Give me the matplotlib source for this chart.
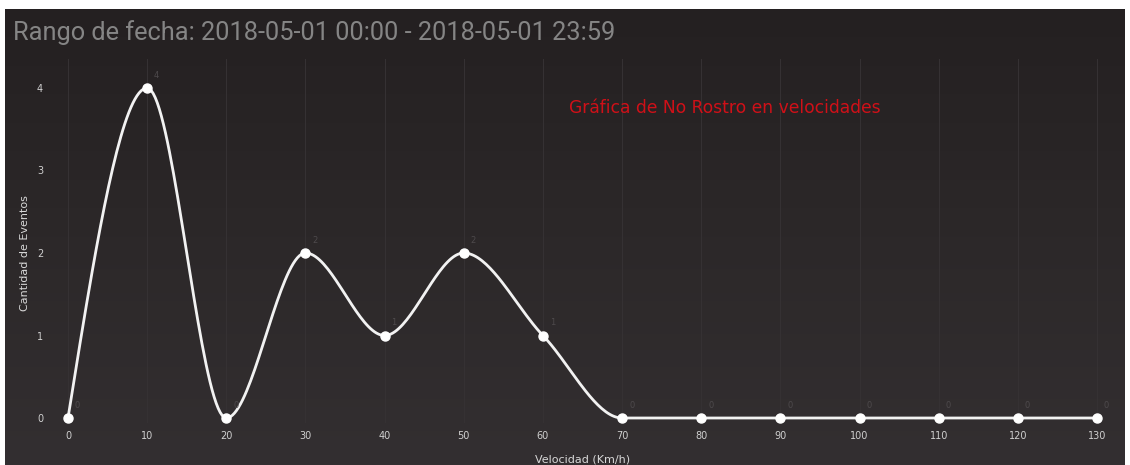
import numpy as np
import matplotlib
matplotlib.use('Agg')
from matplotlib import pyplot as plt
from matplotlib.colors import LinearSegmentedColormap

# data
velocidades = [0, 10, 20, 30, 40, 50, 60, 70, 80, 90, 100, 110, 120, 130]
eventos = [0, 4, 0, 2, 1, 2, 1, 0, 0, 0, 0, 0, 0, 0]
y_ticks = [0, 1, 2, 3, 4]

titulo = 'Rango de fecha: 2018-05-01 00:00 - 2018-05-01 23:59'
subtitulo = 'Gráfica de No Rostro en velocidades'
x_label = 'Velocidad (Km/h)'
y_label = 'Cantidad de Eventos'


def monotone_curve(x, y, n=40):
    ''' Monotone cubic interpolation, like d3.curveMonotoneX '''
    x = np.asarray(x, float)
    y = np.asarray(y, float)
    h = np.diff(x)
    s = np.diff(y) / h
    t = np.zeros(len(x))
    for i in range(1, len(x) - 1):
        s0, s1 = s[i - 1], s[i]
        p = (s0 * h[i] + s1 * h[i - 1]) / (h[i - 1] + h[i])
        t[i] = (np.sign(s0) + np.sign(s1)) * min(abs(s0), abs(s1), 0.5 * abs(p))
    t[0] = (3 * s[0] - t[1]) / 2
    t[-1] = (3 * s[-1] - t[-2]) / 2
    xs, ys = [], []
    for i in range(len(x) - 1):
        u = np.linspace(0, 1, n)
        dx = h[i]
        h00 = 2 * u**3 - 3 * u**2 + 1
        h10 = u**3 - 2 * u**2 + u
        h01 = -2 * u**3 + 3 * u**2
        h11 = u**3 - u**2
        xs.append(x[i] + u * dx)
        ys.append(h00 * y[i] + h10 * dx * t[i] + h01 * y[i + 1] + h11 * dx * t[i + 1])
    return np.concatenate(xs), np.concatenate(ys)


W, H = 1130, 465
fig = plt.figure(figsize=(W / 100, H / 100), dpi=100)
fig.patch.set_facecolor('white')

# dark gradient panel
bg = fig.add_axes([5 / W, 0, 1120 / W, (H - 9) / H])
bg.set_axis_off()
cmap = LinearSegmentedColormap.from_list('bg', ['#242021', '#2c2829', '#332f31'])
grad = np.linspace(0, 1, 256).reshape(-1, 1)
bg.imshow(grad, aspect='auto', cmap=cmap, extent=[0, 1, 0, 1], origin='upper')

fig.text(13 / W, 1 - 33 / H, titulo, color='#858585', fontsize=18.3,
    family='Roboto', va='center', ha='left')

# plot area: x=0 at 68px, x=130 at 1097px; y=0 at 418px, y=4 at 88px
ax = fig.add_axes([68 / W, (H - 418) / H, 1029 / W, 330 / H])
ax.set_facecolor('none')
ax.set_xlim(0, 130)
ax.set_ylim(0, 4)
for sp in ax.spines.values():
    sp.set_visible(False)

for v in velocidades:
    ax.plot([v, v], [-0.05, 4.35], color='#353133', lw=0.8, zorder=0, clip_on=False)

xs, ys = monotone_curve(velocidades, eventos)
ax.plot(xs, ys, color='#f2f2f2', lw=2, zorder=3, clip_on=False)
ax.plot(velocidades, eventos, 'o', color='white', markersize=6.5, zorder=4, clip_on=False)

for v, e in zip(velocidades, eventos):
    ax.annotate(str(e), (v, e), xytext=(5, 6), textcoords='offset points',
        color='#4e4a4c', fontsize=6, ha='left', va='bottom')

ax.set_xticks(velocidades)
ax.set_yticks(y_ticks)
ax.tick_params(axis='both', length=0, colors='#d0d0d0', labelsize=7)
ax.tick_params(axis='x', pad=9)
ax.tick_params(axis='y', pad=18)

ax.set_xlabel(x_label, color='#d8d8d8', fontsize=8, labelpad=10)
ax.set_ylabel(y_label, color='#d8d8d8', fontsize=8)
ax.yaxis.set_label_coords((30 - 68) / 1029, 0.5)

ax.text(0.638, 1 - (108 - 88) / 330, subtitulo, transform=ax.transAxes,
    color='#d01018', fontsize=12.3, ha='center', va='center')

fig.savefig('out.png', dpi=100, facecolor=fig.get_facecolor())
